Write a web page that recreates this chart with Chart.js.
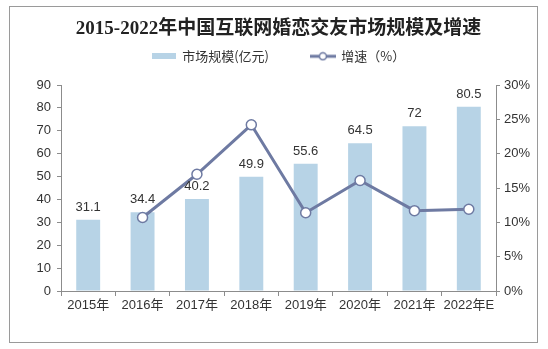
<!DOCTYPE html>
<html>
<head>
<meta charset="utf-8">
<script src="https://cdn.jsdelivr.net/npm/chart.js@4.4.0/dist/chart.umd.min.js"></script>
<style>
  html, body { margin: 0; padding: 0; background: #fff; }
  #wrap { width: 548px; height: 349px; }
</style>
</head>
<body>
<div id="wrap"><canvas id="c" width="548" height="349"></canvas></div>
<script>
const years = ["2015年", "2016年", "2017年", "2018年", "2019年", "2020年", "2021年", "2022年E"];
const marketSize = [31.1, 34.4, 40.2, 49.9, 55.6, 64.5, 72, 80.5];
const growthRate = [null, 10.7, 17.0, 24.2, 11.4, 16.1, 11.7, 11.9];

const barColor = "#B7D3E6";
const lineColor = "#6E7AA2";
const axisColor = "#8C8C8C";
const textColor = "#333333";

// legend symbols
function barIcon() {
  const c = document.createElement("canvas");
  c.width = 24; c.height = 6;
  const g = c.getContext("2d");
  g.fillStyle = barColor;
  g.fillRect(0, 0, 24, 6);
  return c;
}
function lineIcon() {
  const c = document.createElement("canvas");
  c.width = 26; c.height = 10;
  const g = c.getContext("2d");
  g.strokeStyle = lineColor;
  g.lineWidth = 3;
  g.beginPath(); g.moveTo(0, 5); g.lineTo(26, 5); g.stroke();
  g.fillStyle = "#fff";
  g.lineWidth = 1.5;
  g.beginPath(); g.arc(13, 5, 3.5, 0, Math.PI * 2); g.fill(); g.stroke();
  return c;
}

const framePlugin = {
  id: "frame",
  beforeDraw(chart) {
    const ctx = chart.ctx;
    ctx.save();
    ctx.fillStyle = "#fff";
    ctx.fillRect(0, 0, chart.width, chart.height);
    ctx.strokeStyle = "#9A9A9A";
    ctx.lineWidth = 1;
    ctx.strokeRect(9.5, 6.5, 528, 336);
    ctx.restore();
  },
};

const barLabels = {
  id: "barLabels",
  afterDatasetsDraw(chart) {
    const ctx = chart.ctx;
    const meta = chart.getDatasetMeta(0);
    ctx.save();
    ctx.font = "13px 'Liberation Sans', Arial, sans-serif";
    ctx.fillStyle = textColor;
    ctx.textAlign = "center";
    ctx.textBaseline = "bottom";
    meta.data.forEach((bar, i) => {
      ctx.fillText(String(marketSize[i]), bar.x, bar.y - 6);
    });
    ctx.restore();
  },
};

new Chart(document.getElementById("c"), {
  data: {
    labels: years,
    datasets: [
      {
        type: "bar",
        label: "市场规模(亿元)",
        data: marketSize,
        backgroundColor: barColor,
        yAxisID: "y",
        barPercentage: 0.44,
        categoryPercentage: 1,
        order: 2,
      },
      {
        type: "line",
        label: "增速（%）",
        data: growthRate,
        borderColor: lineColor,
        borderWidth: 3,
        pointRadius: 5,
        pointBackgroundColor: "#fff",
        pointBorderColor: lineColor,
        pointBorderWidth: 1.5,
        yAxisID: "y1",
        tension: 0,
        order: 1,
      },
    ],
  },
  options: {
    responsive: false,
    animation: false,
    layout: { padding: { left: 9, right: 0, top: 6, bottom: 0 } },
    plugins: {
      tooltip: { enabled: false },
      title: {
        display: true,
        text: "2015-2022年中国互联网婚恋交友市场规模及增速",
        color: "#222",
        font: { size: 19, weight: "bold", family: "'Liberation Serif', 'Noto Sans CJK SC', serif" },
        padding: { top: 12, bottom: -1 },
      },
      // empty spacer below the legend
      subtitle: {
        display: true,
        text: " ",
        weight: 500,
        font: { size: 1 },
        padding: { top: 0, bottom: 11 },
      },
      legend: {
        display: true,
        position: "top",
        labels: {
          color: textColor,
          font: { size: 13, family: "'Noto Sans CJK SC', sans-serif" },
          usePointStyle: true,
          pointStyleWidth: 24,
          padding: 10,
          generateLabels(chart) {
            return chart.data.datasets.map((ds, i) => ({
              text: i === 0 ? ds.label + "\u3000\u3000  " : ds.label,
              pointStyle: i === 0 ? barIcon() : lineIcon(),
              fillStyle: "transparent",
              strokeStyle: "transparent",
              lineWidth: 0,
              hidden: false,
              datasetIndex: i,
              fontColor: textColor,
            }));
          },
        },
      },
    },
    scales: {
      x: {
        offset: true,
        grid: { offset: true, drawOnChartArea: false, color: axisColor, tickLength: 5 },
        border: { color: axisColor },
        ticks: {
          color: textColor,
          maxRotation: 0,
          font: { size: 13, family: "'Liberation Sans', 'Noto Sans CJK SC', sans-serif" },
          padding: 2,
        },
        afterFit(scale) { scale.height = 58; },
      },
      y: {
        position: "left",
        min: 0,
        max: 90,
        ticks: {
          stepSize: 10,
          color: textColor,
          font: { size: 13, family: "'Liberation Sans', Arial, sans-serif" },
          padding: 6,
        },
        grid: { drawOnChartArea: false, color: axisColor, tickLength: 4 },
        border: { color: axisColor },
        afterFit(scale) { scale.width = 52; },
      },
      y1: {
        position: "right",
        min: 0,
        max: 30,
        ticks: {
          stepSize: 5,
          color: textColor,
          font: { size: 13, family: "'Liberation Sans', Arial, sans-serif" },
          padding: 4,
          callback: (v) => v + "%",
        },
        grid: { drawOnChartArea: false, color: axisColor, tickLength: 4 },
        border: { color: axisColor },
        afterFit(scale) { scale.width = 52; },
      },
    },
  },
  plugins: [framePlugin, barLabels],
});
</script>
</body>
</html>
